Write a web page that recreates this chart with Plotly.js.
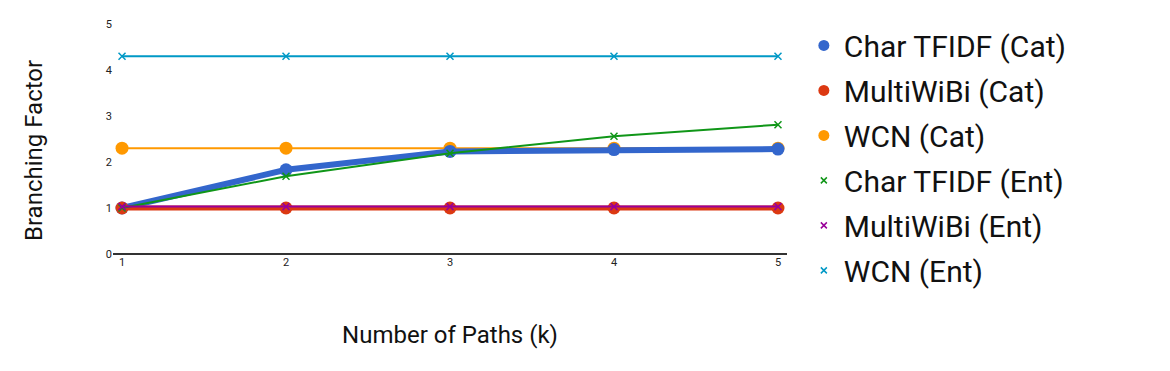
<!DOCTYPE html>
<html>
<head>
<meta charset="utf-8">
<script src="https://cdn.plot.ly/plotly-3.0.1.min.js"></script>
<style>html,body{margin:0;padding:0;background:#fff;}#chart{width:1170px;height:371px;}</style>
</head>
<body>
<div id="chart"></div>
<script>
const paths = [1, 2, 3, 4, 5];
const charTfidfCat = [1.0, 1.83, 2.23, 2.27, 2.28];
const multiWiBiCat = [1.0, 1.0, 1.0, 1.0, 1.0];
const wcnCat = [2.30, 2.30, 2.30, 2.30, 2.30];
const charTfidfEnt = [1.0, 1.69, 2.19, 2.56, 2.81];
const multiWiBiEnt = [1.03, 1.03, 1.03, 1.03, 1.03];
const wcnEnt = [4.30, 4.30, 4.30, 4.30, 4.30];
const seriesNames = ["Char TFIDF (Cat)", "MultiWiBi (Cat)", "WCN (Cat)", "Char TFIDF (Ent)", "MultiWiBi (Ent)", "WCN (Ent)"];
const yTicks = [0, 1, 2, 3, 4, 5];

const styles = [
  {color: "#3366cc", width: 6, symbol: "circle", size: 13, lsize: 11},
  {color: "#dc3912", width: 5, symbol: "circle", size: 13, lsize: 11},
  {color: "#ff9900", width: 2, symbol: "circle", size: 13, lsize: 11},
  {color: "#109618", width: 2, symbol: "x-thin", size: 7, lsize: 6},
  {color: "#990099", width: 2, symbol: "x-thin", size: 7, lsize: 6},
  {color: "#0099c6", width: 2, symbol: "x-thin", size: 7, lsize: 6}
];
const values = [charTfidfCat, multiWiBiCat, wcnCat, charTfidfEnt, multiWiBiEnt, wcnEnt];
const traces = [];
const order = [2, 0, 1, 5, 3, 4];
order.forEach(i => {
  const s = styles[i];
  traces.push({
    x: paths, y: values[i], type: "scatter", mode: "lines+markers",
    name: seriesNames[i], showlegend: false, hoverinfo: "x+y+name",
    line: {color: s.color, width: s.width},
    marker: {color: s.color, symbol: s.symbol, size: s.size,
             line: {color: s.color, width: s.symbol === "x-thin" ? 1.5 : 0}}
  });
});
seriesNames.forEach((n, i) => {
  const s = styles[i];
  traces.push({
    x: [null], y: [null], type: "scatter", mode: "markers", name: n,
    legendgroup: "g" + i, showlegend: true,
    marker: {color: s.color, symbol: s.symbol, size: s.lsize,
             line: {color: s.color, width: s.symbol === "x-thin" ? 1.5 : 0}}
  });
});

const layout = {
  width: 1170, height: 371,
  margin: {l: 113, r: 383, t: 24, b: 117},
  paper_bgcolor: "#fff", plot_bgcolor: "#fff",
  font: {family: "Roboto, Arial, sans-serif", color: "#222"},
  showlegend: true,
  xaxis: {
    range: [0.945, 5.055], tickvals: paths, ticktext: paths.map(String),
    showgrid: false, zeroline: false, showline: false,
    tickfont: {size: 11, color: "#222"}, ticks: "",
    title: {text: "Number of Paths (k)", font: {size: 24, color: "#111"}, standoff: 58}
  },
  yaxis: {
    range: [0, 5], tickvals: yTicks, ticktext: yTicks.map(String),
    showgrid: false, zeroline: true, zerolinecolor: "#333", zerolinewidth: 1.5,
    showline: false, ticks: "",
    tickfont: {size: 11, color: "#222"}
  },
  annotations: [{
    text: "Branching Factor", textangle: -90, showarrow: false,
    xref: "paper", yref: "paper", x: -79 / 674, y: 103 / 230,
    xanchor: "center", yanchor: "middle",
    font: {size: 24, color: "#111"}
  }],
  legend: {
    x: 1.025, xanchor: "left", y: 1.02, yanchor: "top",
    font: {size: 30, color: "#111"}, traceorder: "grouped", tracegroupgap: 3,
    itemwidth: 30, bgcolor: "rgba(0,0,0,0)", maxheight: 360
  }
};
Plotly.newPlot("chart", traces, layout, {displayModeBar: false, staticPlot: true});
</script>
</body>
</html>
